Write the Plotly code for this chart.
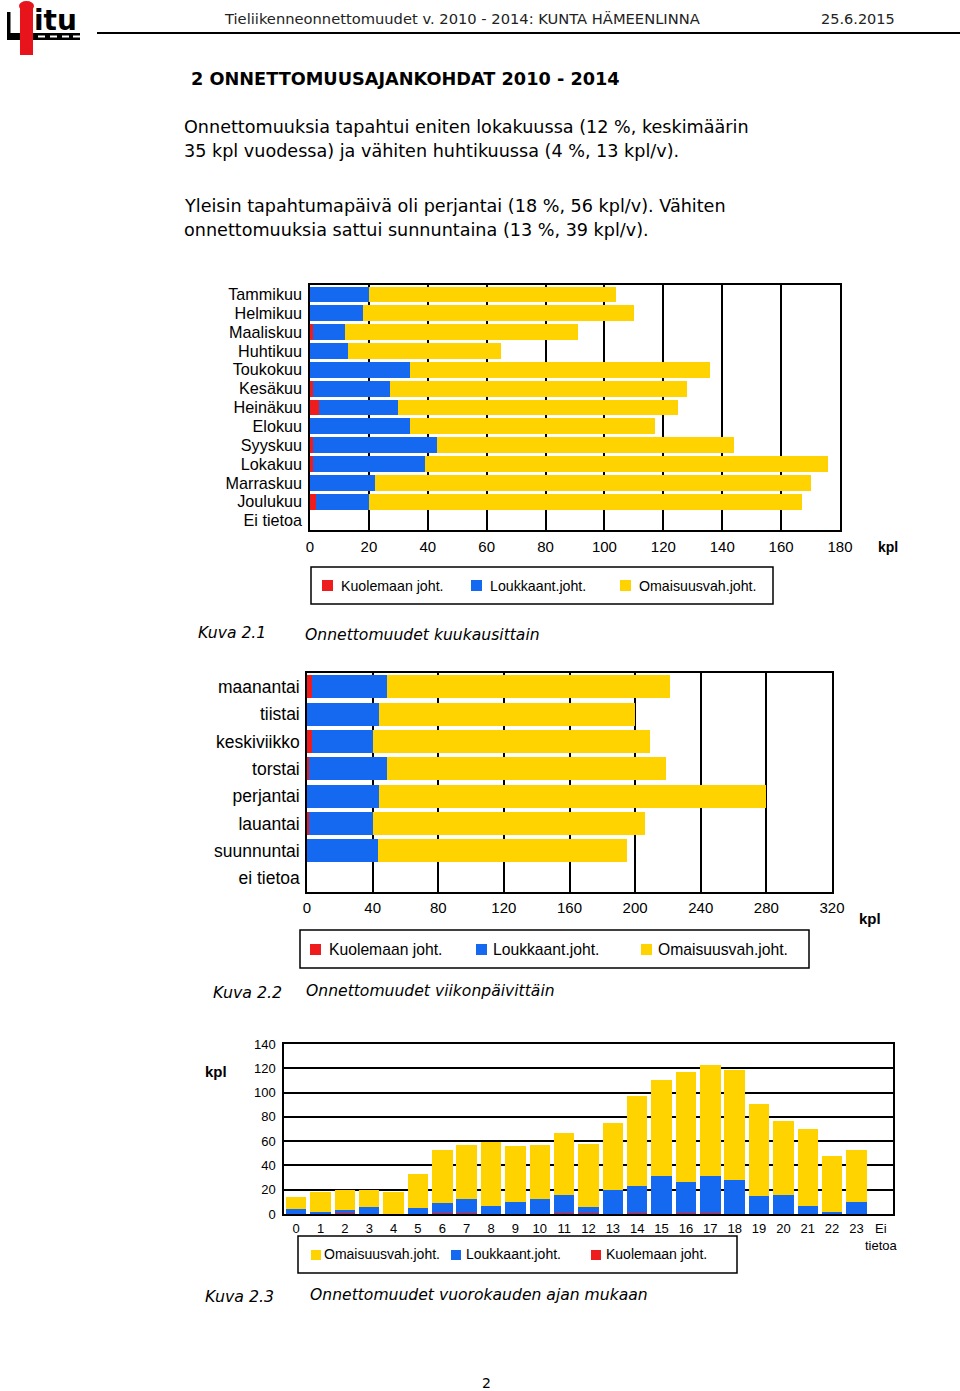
import plotly.graph_objects as go

# ---------------- data ----------------
months = ["Tammikuu", "Helmikuu", "Maaliskuu", "Huhtikuu", "Toukokuu", "Kesäkuu",
          "Heinäkuu", "Elokuu", "Syyskuu", "Lokakuu", "Marraskuu", "Joulukuu", "Ei tietoa"]
m_dead = [0, 0, 1, 0, 0, 1, 3, 0, 1, 1, 0, 2, 0]
m_inj = [20, 18, 11, 13, 34, 26, 27, 34, 42, 38, 22, 18, 0]
m_prop = [84, 92, 79, 52, 102, 101, 95, 83, 101, 137, 148, 147, 0]

days = ["maanantai", "tiistai", "keskiviikko", "torstai", "perjantai", "lauantai",
        "suunnuntai", "ei tietoa"]
d_dead = [3, 0, 3, 1, 0, 1, 0, 0]
d_inj = [46, 44, 37, 48, 44, 39, 43, 0]
d_prop = [172, 156, 169, 170, 236, 166, 152, 0]

hours = [str(h) for h in range(24)] + ["Ei<br>tietoa"]
h_dead = [0, 0, 1, 0, 0, 0, 1, 1, 0, 0, 0, 1, 1, 0, 1, 0, 1, 1, 0, 0, 0, 0, 0, 0, 0]
h_inj = [4, 2, 2, 6, 0, 5, 8, 11, 7, 10, 12, 15, 5, 20, 22, 31, 25, 30, 28, 15, 16, 7, 2, 10, 0]
h_prop = [10, 16, 17, 14, 18, 28, 44, 45, 52, 46, 45, 51, 52, 55, 74, 79, 91, 92, 91, 76, 61, 63, 46, 43, 0]

s_names = ["Kuolemaan joht.", "Loukkaant.joht.", "Omaisuusvah.joht."]
# ---------------- style ----------------
W, H = 960, 1391
RED, BLUE, YEL = "#ee1c1c", "#1469f0", "#ffd300"
ARIAL = "Liberation Sans"
VERD = "DejaVu Sans"


def px(x):
    return x / W


def py(y):
    return 1 - y / H


fig = go.Figure()

# chart 1 (months)
for nm, vals, col in zip(s_names, [m_dead, m_inj, m_prop], [RED, BLUE, YEL]):
    fig.add_trace(go.Bar(y=months, x=vals, orientation="h", name=nm, marker_color=col,
                         marker_line_width=0, xaxis="x", yaxis="y", showlegend=False))
# chart 2 (weekdays)
for nm, vals, col in zip(s_names, [d_dead, d_inj, d_prop], [RED, BLUE, YEL]):
    fig.add_trace(go.Bar(y=days, x=vals, orientation="h", name=nm, marker_color=col,
                         marker_line_width=0, xaxis="x2", yaxis="y2", showlegend=False))
# chart 3 (hours)
for nm, vals, col in zip(s_names, [h_dead, h_inj, h_prop], [RED, BLUE, YEL]):
    fig.add_trace(go.Bar(x=hours, y=vals, name=nm, marker_color=col,
                         marker_line_width=0, xaxis="x3", yaxis="y3", showlegend=False))

frame = dict(showline=True, mirror=True, linecolor="black", linewidth=1.5,
             zeroline=False, ticks="", fixedrange=True)

fig.update_layout(
    autosize=True, margin=dict(l=0, r=0, t=0, b=0, autoexpand=False),
    paper_bgcolor="white", plot_bgcolor="white",
    barmode="stack", bargap=0.16, showlegend=False,
    xaxis=dict(domain=[px(310), px(840)], anchor="y", range=[0, 180], tick0=0, dtick=20,
               showgrid=True, gridcolor="black", gridwidth=1.5,
               tickfont=dict(family=ARIAL, size=15, color="black"), ticklabelstandoff=2, **frame),
    yaxis=dict(domain=[py(530), py(285)], anchor="x", type="category", categoryarray=months,
               tickmode="array", tickvals=months, ticktext=months,
               autorange="reversed", showgrid=False,
               tickfont=dict(family=ARIAL, size=16.2, color="black"), ticklabelstandoff=3, **frame),
    xaxis2=dict(domain=[px(307), px(832)], anchor="y2", range=[0, 320], tick0=0, dtick=40,
                showgrid=True, gridcolor="black", gridwidth=1.5,
                tickfont=dict(family=ARIAL, size=15, color="black"), ticklabelstandoff=1, **frame),
    yaxis2=dict(domain=[py(892), py(673)], anchor="x2", type="category", categoryarray=days,
                tickmode="array", tickvals=days, ticktext=days,
                autorange="reversed", showgrid=False,
                tickfont=dict(family=ARIAL, size=17.5, color="black"), ticklabelstandoff=2, **frame),
    xaxis3=dict(domain=[px(284), px(893)], anchor="y3", type="category", categoryarray=hours,
                tickmode="array", tickvals=hours, ticktext=hours,
                showgrid=False, tickangle=0,
                tickfont=dict(family=ARIAL, size=13, color="black"), ticklabelstandoff=2, **frame),
    yaxis3=dict(domain=[py(1214), py(1044)], anchor="x3", range=[0, 140], tick0=0, dtick=20,
                showgrid=True, gridcolor="black", gridwidth=2,
                tickfont=dict(family=ARIAL, size=13, color="black"), ticklabelstandoff=4, **frame),
)


def txt(x, y, s, size, family=VERD, anchor="left", color="black"):
    fig.add_annotation(x=px(x), y=py(y), xref="paper", yref="paper", text=s, showarrow=False,
                       xanchor=anchor, yanchor="middle", borderpad=0,
                       font=dict(family=family, size=size, color=color))


def rect(x0, y0, x1, y1, fill=None, line=None, lw=1.5, kind="rect"):
    fig.add_shape(type=kind, xref="paper", yref="paper", x0=px(x0), x1=px(x1), y0=py(y1), y1=py(y0),
                  fillcolor=fill if fill else "rgba(0,0,0,0)",
                  line=dict(color=line if line else "rgba(0,0,0,0)", width=lw if line else 0),
                  layer="above")


# ---------------- header / logo ----------------
rect(7, 33, 80, 40, fill="black")
rect(7, 12, 10.5, 40, fill="black")
for dx in (38, 50, 62, 73):
    rect(dx, 35.5, dx + 7, 37.5, fill="white")
rect(20, 6, 33, 55, fill="#e8141c")
rect(19, 1, 34, 11, fill="#e8141c", kind="circle")
txt(33, 20, "<b>itu</b>", 28, family=VERD)

txt(223, 19, "Tieliikenneonnettomuudet v. 2010 - 2014: KUNTA HÄMEENLINNA", 14.7, color="#222")
txt(820, 19, "25.6.2015", 14.5, color="#222")
fig.add_shape(type="line", xref="paper", yref="paper", x0=px(97), x1=1, y0=py(33), y1=py(33),
              line=dict(color="black", width=2))

txt(190, 79, "<b>2 ONNETTOMUUSAJANKOHDAT 2010 - 2014</b>", 17.7)
txt(183, 127, "Onnettomuuksia tapahtui eniten lokakuussa (12 %, keskimäärin", 17.6)
txt(183, 151, "35 kpl vuodessa) ja vähiten huhtikuussa (4 %, 13 kpl/v).", 17.6)
txt(183, 206, "Yleisin tapahtumapäivä oli perjantai (18 %, 56 kpl/v). Vähiten", 17.6)
txt(183, 230, "onnettomuuksia sattui sunnuntaina (13 %, 39 kpl/v).", 17.6)

# ---------------- chart 1 extras ----------------
txt(888, 547, "<b>kpl</b>", 14, family=ARIAL, anchor="center")
rect(311, 567, 773, 604, line="black")
for sx, tx, col, nm in zip((322, 471, 620), (340, 489, 638), (RED, BLUE, YEL), s_names):
    rect(sx, 580, sx + 11, 591, fill=col)
    txt(tx, 586, nm, 14.2, family=ARIAL)
txt(197, 633, "<i>Kuva 2.1</i>", 15.6)
txt(304, 635, "<i>Onnettomuudet kuukausittain</i>", 15.6)

# ---------------- chart 2 extras ----------------
txt(870, 918, "<b>kpl</b>", 15, family=ARIAL, anchor="center")
rect(300, 930, 809, 968, line="black")
for sx, tx, col, nm in zip((310, 476, 641), (328, 492, 657), (RED, BLUE, YEL), s_names):
    rect(sx, 944, sx + 11, 955, fill=col)
    txt(tx, 949, nm, 15.7, family=ARIAL)
txt(212, 992, "<i>Kuva 2.2</i>", 15.8)
txt(305, 991, "<i>Onnettomuudet viikonpäivittäin</i>", 15.6)

# ---------------- chart 3 extras ----------------
txt(216, 1071, "<b>kpl</b>", 15, family=ARIAL, anchor="center")
rect(298, 1236, 737, 1273, line="black")
for sx, tx, col, nm in zip((311, 451, 591), (323, 465, 605), (YEL, BLUE, RED), s_names[::-1]):
    rect(sx, 1250, sx + 10, 1260, fill=col)
    txt(tx, 1254, nm, 14, family=ARIAL)
txt(204, 1296, "<i>Kuva 2.3</i>", 15.8)
txt(309, 1295, "<i>Onnettomuudet vuorokauden ajan mukaan</i>", 15.6)

txt(486, 1383, "2", 14, anchor="center")

fig.write_html(
    "out.html", config={"displayModeBar": False, "responsive": True},
    default_width="100vw", default_height="100vh",
    post_script="document.body.style.margin='0';"
                "document.documentElement.style.overflow='hidden';"
                "Plotly.Plots.resize(document.getElementById('{plot_id}'));")
